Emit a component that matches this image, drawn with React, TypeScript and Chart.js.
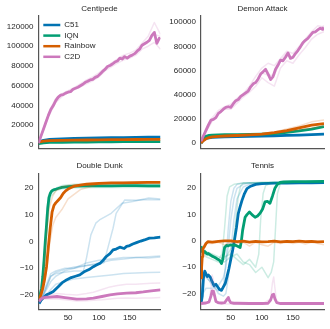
import React, { useEffect, useRef } from 'react';
import { Chart, registerables } from 'chart.js';

Chart.register(...registerables);

const FONT = '"Liberation Sans", Arial, sans-serif';
const TEXT = '#262626';
const SPINE = '#555555';

const ALGOS = ['C51', 'IQN', 'Rainbow', 'C2D'];
const ALGO_COLORS = ['#0173B2', '#029E73', '#D55E00', '#CC78BC'];

const X_TICKS = [50, 100, 150];
const CEN_Y_TICKS = [0, 20000, 40000, 60000, 80000, 100000, 120000];
const DA_Y_TICKS = [0, 20000, 40000, 60000, 80000, 100000];
const SMALL_Y_TICKS = [-20, -10, 0, 10, 20];

// ---------- Centipede ----------
const CEN_C2D_X = [2,6,10,14,18,22,26,30,34,38,42,46,50,54,58,62,66,70,74,78,82,86,90,94,98,102,106,110,114,118,122,126,130,134,138,142,146,150,154,158,162,166,170,174,178,182,186,190,194,198,200];
const CEN_C2D_Y = [2000,9000,16000,23000,30000,36000,40000,45000,48500,50500,51000,52500,53500,54000,56500,57500,58500,60000,61500,63500,64500,66000,66500,68500,69500,72000,74500,76500,79500,80500,82000,84000,85000,88000,87000,89500,88000,90000,91000,92500,95000,97000,101000,102500,104000,106000,111000,114000,103000,108000,107000];
const SEED10_X = [2,10,20,30,40,50,60,70,80,90,100,110,120,130,140,150,160,170,180,190,200];
const CEN_C2D_S1 = [2000,17000,35000,47000,52000,55000,58000,62000,66000,69000,73000,78000,83000,87000,91000,93000,96000,103000,110000,124000,112000];
const CEN_C2D_S2 = [2000,15000,31000,43000,49000,53000,56000,59000,62000,65000,69000,75000,79000,83000,86000,88000,91000,97000,100000,104000,97000];
const CEN_C2D_S3 = [2000,16000,33000,45000,51000,54000,57000,60000,65000,67000,71000,77000,81000,86000,90000,89000,94000,101000,104000,112000,110000];
const CEN_BASE_X = [2,10,20,40,60,80,100,120,140,160,180,200];
const CEN_C51_Y = [3000,4800,5600,6200,6600,7000,7200,7400,7600,7800,8000,8100];
const CEN_IQN_Y = [1500,2300,2600,2800,3000,3100,3200,3300,3400,3400,3500,3500];
const CEN_RB_Y = [3000,4000,4400,4700,4900,5100,5300,5400,5500,5600,5700,5800];

// ---------- Demon Attack ----------
const DA_C2D_X = [2,6,10,14,18,22,26,30,34,38,42,46,50,54,58,62,66,70,74,78,82,86,90,94,98,102,106,110,114,118,122,126,130,134,138,142,146,150,154,158,162,166,170,174,178,182,186,190,194,198,200];
const DA_C2D_Y = [1500,6000,10500,15000,19000,19500,21000,24500,26000,28000,29500,30000,29500,32500,35000,36000,38500,40000,41500,43000,46500,49000,50000,53000,57000,59000,61000,57000,52500,55000,61000,64500,68500,68000,71000,74500,70000,71000,74000,76500,79500,83000,85000,86500,89000,91500,92000,93500,95000,94000,95500];
const DA_C2D_S1 = [1500,12000,21000,27000,30000,32000,37000,41000,47000,55000,62000,66000,64000,70000,76000,74000,80000,86000,92000,97000,96000];
const DA_C2D_S2 = [1500,9000,18000,24000,28000,28000,33000,38000,42000,47000,54000,50000,47000,62000,68000,66000,73000,79000,86000,90000,92000];
const DA_C2D_S3 = [1500,10000,19000,25000,29000,30000,35000,40000,45000,50000,58000,56000,56000,68000,74000,70000,78000,84000,90000,94000,97000];
const DA_BASE_X = [2,6,10,15,20,30,40,60,80,100,120,140,160,180,200];
const DA_C51_Y = [0,2500,3800,4300,4600,4800,5000,5200,5400,5700,6000,6300,6600,7000,7300];
const DA_IQN_Y = [0,3500,5500,6300,6600,6800,6900,7000,7200,7400,7800,8800,10000,11500,13500];
const DA_RB_Y = [0,2000,3500,4500,5000,5500,5800,6200,6800,7300,8500,10300,12500,14800,16000];
const DA_RB_S1 = [0,2200,3800,4800,5300,5800,6100,6600,7200,7800,9200,11500,14000,17500,19000];
const DA_RB_S2 = [0,1800,3200,4200,4700,5200,5500,5900,6400,6900,8000,9300,11000,12500,14000];

// ---------- Double Dunk ----------
const DD_IQN_X = [3,5,7,9,11,13,15,17,19,21,23,25,28,31,35,40,50,60,80,100,120,140,160,180,200];
const DD_IQN_Y = [-21.5,-19.5,-17.5,-13,-7,0,6,12.5,16.5,18,18.8,19.2,19.5,19.7,20,20.3,20.6,20.8,20.9,20.9,20.9,21,21,20.9,20.9];
const DD_IQN_SX = [3,6,9,12,15,18,22,30,40,60,100,150,200];
const DD_IQN_S1 = [-21,-18,-12,-2,10,17,19,20,21,21.5,21.5,21.6,21.6];
const DD_IQN_S2 = [-21,-20,-15,-6,4,12,17,19,19.8,20.2,20.3,20.3,20.4];
const DD_RB_X = [3,6,9,12,15,18,21,24,27,30,34,38,42,46,50,55,60,70,80,100,120,140,160,180,200];
const DD_RB_Y = [-21.5,-20,-17.5,-14,-9.5,-2,5,11,13.5,14.5,15.5,16.5,18,19,19.7,20.3,20.8,21.2,21.5,21.8,22,22,22.1,22.2,22.2];
const DD_RB_SX = [3,8,12,16,20,25,30,40,50,70,100,150,200];
const DD_RB_S1 = [-21,-17,-8,5,13,17,19,20.5,21,21.5,22,22.3,22.4];
const DD_RB_S2 = [-21,-19,-15,-9,-1,6,9,12,16,19.5,21.5,22,22.2];
const DD_C51_X = [3,6,10,15,20,26,34,40,48,55,62,69,77,84,91,96,102,107,112,118,123,128,134,141,145,150,155,161,168,174,182,190,200];
const DD_C51_Y = [-23.3,-22,-21,-20,-19.5,-18.7,-16.9,-15.5,-14.3,-13.5,-13,-12.5,-11.2,-10.5,-9.4,-8.8,-8.1,-7,-5.6,-4.5,-3.1,-2.8,-2.1,-2.6,-1.8,-1.5,-0.9,-0.4,0.2,0.6,1.3,1.4,1.7];
const DD_C51_SA_X = [3,8,15,22,30,45,60,75,80,87,95,101,120,138,155,181,200];
const DD_C51_SA_Y = [-23,-21,-17,-13,-12,-11.5,-11,-11,-6,2.5,6.9,8.1,10.6,14.4,15,16.3,16];
const DD_C51_SB_X = [3,8,15,22,30,45,60,80,100,108,115,123,128,142,160,180,200];
const DD_C51_SB_Y = [-23,-20,-16,-12,-11,-10,-10,-9,-8.5,-8,-2,5,10.6,15.6,15.5,15.8,15.7];
const DD_C51_SX = [3,8,15,22,30,45,60,80,100,120,140,160,180,200];
const DD_C51_SC_Y = [-23,-21,-18,-15,-13,-11,-10,-8,-7,-6.5,-6,-6,-6.2,-5.8];
const DD_C51_SD_Y = [-23,-22,-20,-18,-16,-15,-14,-13.5,-13,-12.5,-12,-11.8,-11.6,-11.5];
const DD_C51_SE_Y = [-23,-21,-17,-13,-11.5,-10.5,-9.5,-9,-8,-7,-6.5,-6,-5.7,-5.4];
const DD_C2D_X = [3,6,10,20,32,45,64,80,91,105,118,130,145,160,172,185,200];
const DD_C2D_Y = [-22.5,-21.5,-21,-20.8,-20.6,-21,-21.6,-21.5,-21.2,-20.6,-20,-19.6,-19.3,-19.2,-18.9,-18.5,-18.1];
const DD_C2D_S1 = [-22,-21,-20.5,-20,-19.5,-19.8,-20,-19.5,-19,-18,-17,-16.5,-16,-16,-15.8,-15.6,-15.5];
const DD_C2D_S2 = [-23,-22,-21.5,-21.5,-21.5,-21.8,-22.3,-22.2,-22,-21.8,-21.5,-21.3,-21.2,-21.3,-21.2,-21.2,-21];

// ---------- Tennis ----------
const TN_C51_X = [2,4,6,8,10,12,14,17,20,23,26,29,32,35,38,41,44,47,50,53,56,59,62,65,68,72,76,82,90,100,120,140,160,180,200];
const TN_C51_Y = [-23.8,-21,-14,-11.5,-12.5,-13.5,-13,-13.8,-15.5,-17,-16.5,-17.5,-18.5,-18.8,-17.5,-16.2,-13.5,-10.5,-7,-3.5,0.5,5,10.4,13,15.4,18,19.9,20.8,21.5,21.8,22,22,22.1,22.1,22.2];
const TN_C51_SX = [2,5,10,20,30,38,42,46,50,55,60,70,80,100,200];
const TN_C51_SA = [-24,-14,-13,-17,-19,-18,-8,5,15,20,21.5,22,22,22,22.2];
const TN_C51_SB = [-24,-12,-14,-16,-20,-21,-20,-14,-4,8,16,20.5,21.5,22,22.2];
const TN_C51_SC = [-24,-20,-18,-18,-17,-14,-10,-2,8,16,20,21.5,22,22,22.2];
const TN_IQN_X = [2,4,6,8,10,12,14,17,20,23,26,29,32,35,37,40,43,46,49,53,57,61,65,67,69,71,73,76,80,84,89,93,97,101,105,109,113,117,121,125,129,135,150,170,200];
const TN_IQN_Y = [-2,-4,-4.5,-4,-4.5,-5,-4.8,-5.3,-5.8,-6.1,-6.5,-7,-7.4,-8.6,-7,-2.5,-1.7,-1.9,-1.5,-1.7,-1.6,-2,-2.5,0,4,6.5,9,10,11,10,9,9.5,10.5,12,14.8,15,14.3,17,20,21.5,22.2,22.4,22.5,22.5,22.6];
const TN_IQN_SA_X = [2,10,20,30,36,40,44,48,55,70,100,200];
const TN_IQN_SA_Y = [-2,-5,-6,-7,-5,5,17,20.5,21.5,22,22.3,22.6];
const TN_IQN_SB_X = [2,10,20,30,40,50,60,70,80,90,95,98,102,106,115,200];
const TN_IQN_SB_Y = [-2,-6,-7,-8,-6,-5,-7,-9,-7,-10,-5,8,18,21,22,22.6];
const TN_IQN_SC_X = [2,10,20,30,40,50,60,70,80,90,100,110,115,119,122,125,130,200];
const TN_IQN_SC_Y = [-2,-5,-6,-7,-8,-6,-5,-8,-9,-12,-10,-14,-12,-8,5,18,22,22.6];
const TN_IQN_SD_X = [2,10,20,30,40,50,55,58,62,66,70,200];
const TN_IQN_SD_Y = [-2,-4,-5,-6,-7,-3,0,8,17,21,22,22.6];
const TN_RB_X = [2,3,4,5,7,10,13,20,30,40,50,60,70,80,90,100,110,120,130,140,150,160,170,180,190,200];
const TN_RB_Y = [-14,-10,-6,-3,-2.3,-1,-0.3,-0.5,-0.2,0,0,-0.3,-0.1,-0.5,-0.2,-0.4,-0.3,-0.1,-0.4,-0.2,-0.3,-0.1,-0.3,-0.2,-0.4,-0.3];
const TN_RB_SX = [2,4,6,10,20,30,40,50,60,70,80,90,100,110,120,130,140,150,160,170,180,190,200];
const TN_RB_SY = [-15,-5,-3,-1,-1,-0.5,-1.5,-0.5,-1,-0.5,-2,-0.5,-1.5,-2,-0.5,-1,-0.5,-1,-0.5,-1.2,-0.5,-1,-1.5];
const TN_C2D_X = [2,5,10,15,18,20,22,24,26,30,35,40,43,46,48,50,55,60,80,100,110,114,117,119,121,124,130,150,170,200];
const TN_C2D_Y = [-23.8,-23.7,-23.6,-23.2,-21,-19,-19.2,-21,-23,-23.5,-23.6,-23.5,-22.5,-21.5,-22.8,-23.5,-23.7,-23.7,-23.8,-23.8,-23.7,-22.5,-20.5,-20.3,-22,-23.5,-23.8,-23.8,-23.8,-23.8];
const TN_C2D_SX = [2,15,18,20,22,25,30,60,100,114,117,119,121,124,200];
const TN_C2D_SY = [-24,-23.5,-18,-13,-15,-22,-24,-24,-24,-22,-16,-13.7,-18,-23.5,-24];

type Series = { xs: number[]; ys: number[]; algo: number; seed?: boolean };

function hexA(hex: string, a: number) {
  const r = parseInt(hex.slice(1, 3), 16);
  const g = parseInt(hex.slice(3, 5), 16);
  const b = parseInt(hex.slice(5, 7), 16);
  return `rgba(${r},${g},${b},${a})`;
}

type PanelCfg = {
  title: string;
  left: number; top: number; w: number; h: number;
  yWidth: number; padRight: number;
  titlePad: { top: number; bottom: number };
  xHeight: number; showX: boolean;
  yMin: number; yMax: number; yTicks: number[];
  series: Series[];
  legend?: boolean;
};

const fmt = (v: number) => (v < 0 ? '\u2212' + Math.abs(v) : String(v));

const legendPlugin = {
  id: 'algoLegend',
  afterDatasetsDraw(chart: any) {
    const { ctx, chartArea } = chart;
    ctx.save();
    ALGOS.forEach((label, i) => {
      const y = chartArea.top + 9.4 + i * 10.6;
      const x0 = chartArea.left + 4.8;
      ctx.strokeStyle = ALGO_COLORS[i];
      ctx.lineWidth = 2.5;
      ctx.beginPath();
      ctx.moveTo(x0, y);
      ctx.lineTo(x0 + 17, y);
      ctx.stroke();
      ctx.fillStyle = TEXT;
      ctx.font = `8px ${FONT}`;
      ctx.textBaseline = 'middle';
      ctx.textAlign = 'left';
      ctx.fillText(label, x0 + 21, y);
    });
    ctx.restore();
  },
};

function Panel({ cfg }: { cfg: PanelCfg }) {
  const ref = useRef<HTMLCanvasElement>(null);
  useEffect(() => {
    const n = cfg.series.length;
    const datasets = cfg.series.map((s, i) => ({
      label: ALGOS[s.algo] + (s.seed ? ' seed' : ''),
      data: s.xs.map((x, j) => ({ x, y: s.ys[j] })),
      borderColor: s.seed ? hexA(ALGO_COLORS[s.algo], 0.2) : ALGO_COLORS[s.algo],
      borderWidth: s.seed ? 1.5 : 2.8,
      pointRadius: 0,
      fill: false,
      tension: 0,
      borderJoinStyle: 'round' as const,
      order: n - i,
    }));
    const chart = new Chart(ref.current!, {
      type: 'line',
      data: { datasets },
      plugins: cfg.legend ? [legendPlugin] : [],
      options: {
        animation: false,
        responsive: false,
        events: [],
        layout: { padding: { left: 0, right: cfg.padRight, top: 0, bottom: 0 } },
        plugins: {
          legend: { display: false },
          tooltip: { enabled: false },
          title: {
            display: true,
            fullSize: false,
            text: cfg.title,
            color: TEXT,
            font: { family: FONT, size: 8, weight: 'normal' },
            padding: cfg.titlePad,
          },
        },
        scales: {
          x: {
            type: 'linear',
            min: 2,
            max: 200,
            grid: { display: false, drawTicks: false },
            border: { display: true, color: SPINE, width: 1.2 },
            ticks: {
              display: cfg.showX,
              padding: 4,
              color: TEXT,
              font: { family: FONT, size: 8 },
              callback: (v: any) => fmt(Number(v)),
            },
            afterBuildTicks: (s: any) => {
              s.ticks = X_TICKS.map((v) => ({ value: v }));
            },
            afterFit: (s: any) => {
              s.height = cfg.xHeight;
            },
          },
          y: {
            type: 'linear',
            min: cfg.yMin,
            max: cfg.yMax,
            grid: { display: false, drawTicks: false },
            border: { display: true, color: SPINE, width: 1.2 },
            ticks: {
              padding: 5,
              color: TEXT,
              font: { family: FONT, size: 8 },
              callback: (v: any) => fmt(Number(v)),
            },
            afterBuildTicks: (s: any) => {
              s.ticks = cfg.yTicks.map((v) => ({ value: v }));
            },
            afterFit: (s: any) => {
              s.width = cfg.yWidth;
            },
          },
        },
      } as any,
    });
    return () => chart.destroy();
  }, []);
  return (
    <canvas
      ref={ref}
      width={cfg.w}
      height={cfg.h}
      style={{ position: 'absolute', left: cfg.left, top: cfg.top, width: cfg.w, height: cfg.h }}
    />
  );
}

const PANELS: PanelCfg[] = [
  {
    title: 'Centipede', left: 0, top: 0, w: 165, h: 158,
    yWidth: 38.5, padRight: 4.5, titlePad: { top: 4, bottom: 2 }, xHeight: 5.5, showX: false,
    yMin: -3200, yMax: 131000, yTicks: CEN_Y_TICKS, legend: true,
    series: [
      { xs: CEN_BASE_X, ys: CEN_C51_Y, algo: 0 },
      { xs: CEN_BASE_X, ys: CEN_IQN_Y, algo: 1 },
      { xs: CEN_BASE_X, ys: CEN_RB_Y, algo: 2 },
      { xs: SEED10_X, ys: CEN_C2D_S1, algo: 3, seed: true },
      { xs: SEED10_X, ys: CEN_C2D_S2, algo: 3, seed: true },
      { xs: SEED10_X, ys: CEN_C2D_S3, algo: 3, seed: true },
      { xs: CEN_C2D_X, ys: CEN_C2D_Y, algo: 3 },
    ],
  },
  {
    title: 'Demon Attack', left: 165, top: 0, w: 165, h: 158,
    yWidth: 36, padRight: 6, titlePad: { top: 4, bottom: 2 }, xHeight: 5.5, showX: false,
    yMin: -4300, yMax: 105400, yTicks: DA_Y_TICKS,
    series: [
      { xs: DA_BASE_X, ys: DA_C51_Y, algo: 0 },
      { xs: DA_BASE_X, ys: DA_IQN_Y, algo: 1 },
      { xs: DA_BASE_X, ys: DA_RB_S1, algo: 2, seed: true },
      { xs: DA_BASE_X, ys: DA_RB_S2, algo: 2, seed: true },
      { xs: DA_BASE_X, ys: DA_RB_Y, algo: 2 },
      { xs: SEED10_X, ys: DA_C2D_S1, algo: 3, seed: true },
      { xs: SEED10_X, ys: DA_C2D_S2, algo: 3, seed: true },
      { xs: SEED10_X, ys: DA_C2D_S3, algo: 3, seed: true },
      { xs: DA_C2D_X, ys: DA_C2D_Y, algo: 3 },
    ],
  },
  {
    title: 'Double Dunk', left: 0, top: 158, w: 165, h: 171,
    yWidth: 38.5, padRight: 4.5, titlePad: { top: 3.2, bottom: 2.5 }, xHeight: 19.7, showX: true,
    yMin: -25.4, yMax: 25.6, yTicks: SMALL_Y_TICKS,
    series: [
      { xs: DD_C51_SA_X, ys: DD_C51_SA_Y, algo: 0, seed: true },
      { xs: DD_C51_SB_X, ys: DD_C51_SB_Y, algo: 0, seed: true },
      { xs: DD_C51_SX, ys: DD_C51_SC_Y, algo: 0, seed: true },
      { xs: DD_C51_SX, ys: DD_C51_SD_Y, algo: 0, seed: true },
      { xs: DD_C51_SX, ys: DD_C51_SE_Y, algo: 0, seed: true },
      { xs: DD_C51_X, ys: DD_C51_Y, algo: 0 },
      { xs: DD_IQN_SX, ys: DD_IQN_S1, algo: 1, seed: true },
      { xs: DD_IQN_SX, ys: DD_IQN_S2, algo: 1, seed: true },
      { xs: DD_IQN_X, ys: DD_IQN_Y, algo: 1 },
      { xs: DD_RB_SX, ys: DD_RB_S1, algo: 2, seed: true },
      { xs: DD_RB_SX, ys: DD_RB_S2, algo: 2, seed: true },
      { xs: DD_RB_X, ys: DD_RB_Y, algo: 2 },
      { xs: DD_C2D_X, ys: DD_C2D_S1, algo: 3, seed: true },
      { xs: DD_C2D_X, ys: DD_C2D_S2, algo: 3, seed: true },
      { xs: DD_C2D_X, ys: DD_C2D_Y, algo: 3 },
    ],
  },
  {
    title: 'Tennis', left: 165, top: 158, w: 165, h: 171,
    yWidth: 36, padRight: 6, titlePad: { top: 3.2, bottom: 2.5 }, xHeight: 19.7, showX: true,
    yMin: -26, yMax: 25.7, yTicks: SMALL_Y_TICKS,
    series: [
      { xs: TN_C51_SX, ys: TN_C51_SA, algo: 0, seed: true },
      { xs: TN_C51_SX, ys: TN_C51_SB, algo: 0, seed: true },
      { xs: TN_C51_SX, ys: TN_C51_SC, algo: 0, seed: true },
      { xs: TN_C51_X, ys: TN_C51_Y, algo: 0 },
      { xs: TN_IQN_SA_X, ys: TN_IQN_SA_Y, algo: 1, seed: true },
      { xs: TN_IQN_SB_X, ys: TN_IQN_SB_Y, algo: 1, seed: true },
      { xs: TN_IQN_SC_X, ys: TN_IQN_SC_Y, algo: 1, seed: true },
      { xs: TN_IQN_SD_X, ys: TN_IQN_SD_Y, algo: 1, seed: true },
      { xs: TN_IQN_X, ys: TN_IQN_Y, algo: 1 },
      { xs: TN_RB_SX, ys: TN_RB_SY, algo: 2, seed: true },
      { xs: TN_RB_X, ys: TN_RB_Y, algo: 2 },
      { xs: TN_C2D_SX, ys: TN_C2D_SY, algo: 3, seed: true },
      { xs: TN_C2D_X, ys: TN_C2D_Y, algo: 3 },
    ],
  },
];

export default function App() {
  return (
    <div style={{ position: 'fixed', left: 0, top: 0, width: 330, height: 329, background: '#ffffff' }}>
      {PANELS.map((p) => (
        <Panel key={p.title} cfg={p} />
      ))}
    </div>
  );
}
